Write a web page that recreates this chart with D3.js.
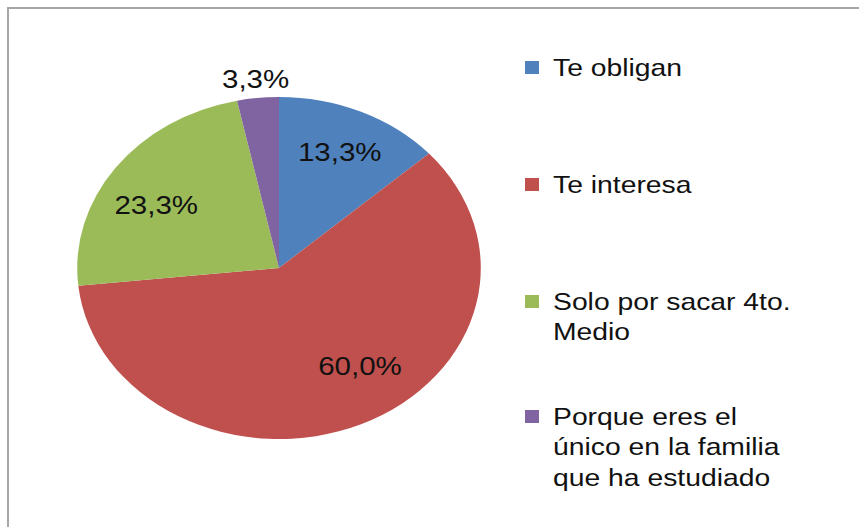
<!DOCTYPE html>
<html>
<head>
<meta charset="utf-8">
<script src="https://cdn.jsdelivr.net/npm/d3@7"></script>
<style>
  html, body { margin: 0; padding: 0; background: #fff; }
  svg { display: block; }
</style>
</head>
<body>
<svg id="chart" width="859" height="527"></svg>
<script>
// ---- data ----
const categories = ["Te obligan", "Te interesa", "Solo por sacar 4to. Medio", "Porque eres el único en la familia que ha estudiado"];
const legendLines = [["Te obligan"], ["Te interesa"], ["Solo por sacar 4to.", "Medio"], ["Porque eres el", "único en la familia", "que ha estudiado"]];
const values = [4, 18, 7, 1];
const percentLabels = ["13,3%", "60,0%", "23,3%", "3,3%"];
const colors = ["#4F81BD", "#C0504D", "#9BBB59", "#8064A2"];

// ---- layout ----
const W = 859, H = 527;
const cx = 279, cy = 268;
const R = 171;          // vertical radius
const sx = 1.18;        // horizontal stretch of the picture
// label placement (best-fit style): radius fraction and angle shift (degrees)
const labelRadius = [0.74, 0.70, 0.71, 1.11];
const labelShift = [0, -11, -5, 0];
const svg = d3.select("#chart");

svg.append("rect")
  .attr("x", 8).attr("y", 8)
  .attr("width", 880).attr("height", 560)
  .attr("fill", "#fff")
  .attr("stroke", "#a6a6a6")
  .attr("stroke-width", 2);

const pie = d3.pie().sort(null).value(d => d);
const arcs = pie(values);
const arc = d3.arc().innerRadius(0).outerRadius(R);

const g = svg.append("g").attr("transform", `translate(${cx},${cy}) scale(${sx},1)`);
g.selectAll("path").data(arcs).join("path")
  .attr("d", arc)
  .attr("fill", (d, i) => colors[i]);

const labelFont = 25;
svg.append("g").selectAll("text").data(arcs).join("text")
  .each(function(d, i) {
    const rr = R * labelRadius[i];
    const a = (d.startAngle + d.endAngle) / 2 + labelShift[i] * Math.PI / 180;
    const x = Math.sin(a) * rr, y = -Math.cos(a) * rr;
    const px = cx + x * sx;
    const py = cy + y + labelFont * 0.716 / 2;
    d3.select(this)
      .attr("transform", `translate(${px},${py}) scale(${sx},1)`)
      .attr("text-anchor", "middle")
      .attr("font-family", "Liberation Sans, Arial, sans-serif")
      .attr("font-size", labelFont)
      .attr("fill", "#111")
      .text(percentLabels[i]);
  });

// ---- legend ----
const legendX = 525, textX = 553;
const baselines = [76, 193, 310, 425];
const lineH = 30.5;
const legendFont = 24;
const leg = svg.append("g");
categories.forEach((c, i) => {
  leg.append("rect")
    .attr("x", legendX).attr("y", baselines[i] - 15)
    .attr("width", 14).attr("height", 13)
    .attr("fill", colors[i]);
  const t = leg.append("text")
    .attr("transform", `translate(${textX},${baselines[i]}) scale(${sx},1)`)
    .attr("font-family", "Liberation Sans, Arial, sans-serif")
    .attr("font-size", legendFont)
    .attr("fill", "#111");
  legendLines[i].forEach((line, j) => {
    t.append("tspan").attr("x", 0).attr("y", j * lineH).text(line);
  });
});
</script>
</body>
</html>
